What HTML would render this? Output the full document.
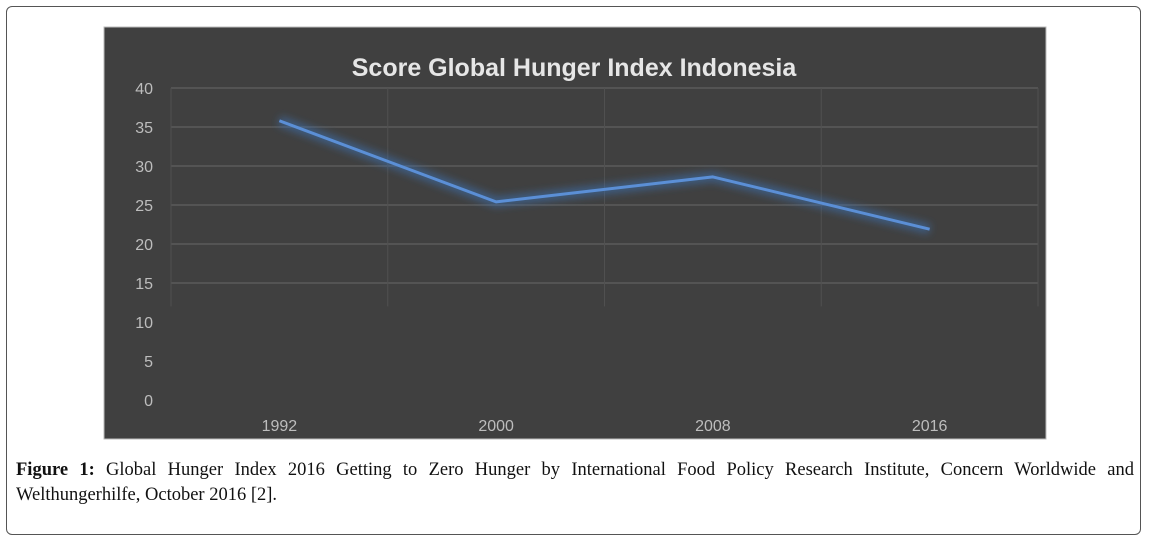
<!DOCTYPE html>
<html><head><meta charset="utf-8"><style>
body{margin:0;width:1149px;height:542px;background:#fff;overflow:hidden;font-family:"Liberation Sans",sans-serif}
#frame{position:absolute;left:6px;top:6px;width:1135px;height:529px;border:1px solid #555;border-radius:6px;box-sizing:border-box}
#cap{position:absolute;left:16px;top:458px;width:1118px;font-family:"Liberation Serif",serif;font-size:18.5px;line-height:25px;color:#111}
#cap .l1{text-align:justify;text-align-last:justify;white-space:nowrap}
</style></head><body>
<div id="frame"></div>
<svg width="1149" height="542" style="position:absolute;left:0;top:0">
<defs><filter id="glow" x="-20%" y="-50%" width="140%" height="200%"><feGaussianBlur stdDeviation="4"/></filter></defs>
<rect x="104" y="27" width="942" height="412" fill="#404040" stroke="#bbb"/>
<text x="574" y="76" text-anchor="middle" font-size="25" font-weight="bold" fill="#e6e6e6" font-family="Liberation Sans">Score Global Hunger Index Indonesia</text>
<g id="grid"></g><g id="yt"></g><g id="xt"></g><g id="ser"></g>
</svg>
<div id="cap"><div class="l1"><b>Figure 1:</b> Global Hunger Index 2016 Getting to Zero Hunger by International Food Policy Research Institute, Concern Worldwide and</div><div>Welthungerhilfe, October 2016 [2].</div></div>
<script>
const categories=["1992","2000","2008","2016"];
const values=[35.8,25.4,28.6,21.9];
const yTicks=[0,5,10,15,20,25,30,35,40];
const gridTicks=[15,20,25,30,35,40];
const NS="http://www.w3.org/2000/svg";
const L=171,R=1038,T=88,B=400;
const y=v=>B-(v/40)*(B-T);
const bw=(R-L)/categories.length;
const x=i=>L+bw*(i+0.5);
function mk(t,a,p){const e=document.createElementNS(NS,t);for(const k in a)e.setAttribute(k,a[k]);p.appendChild(e);return e;}
const g=document.getElementById('grid');
gridTicks.forEach(v=>{const l=mk('line',{x1:L,x2:R,y1:y(v),y2:y(v),stroke:'#5a5a5a','stroke-width':1.5},g);

});
for(let i=0;i<=categories.length;i++){const l=mk('line',{x1:L+bw*i,x2:L+bw*i,y1:T,y2:y(12),stroke:'#505050','stroke-width':1},g);

}
const yt=document.getElementById('yt');
yTicks.forEach(v=>{const t=mk('text',{x:153,y:y(v)+6,'text-anchor':'end','font-size':16,fill:'#bdbdbd'},yt);t.textContent=v;

});
const xt=document.getElementById('xt');
categories.forEach((c,i)=>{const t=mk('text',{x:x(i),y:431,'text-anchor':'middle','font-size':16,fill:'#bdbdbd'},xt);t.textContent=c;

});
const s=document.getElementById('ser');
const pts=values.map((v,i)=>x(i)+','+y(v)).join(' ');
const gl=mk('polyline',{points:pts,fill:'none',stroke:'#3d6fb0','stroke-width':10,'stroke-opacity':0.6,filter:'url(#glow)'},s);


const ln=mk('polyline',{points:pts,fill:'none',stroke:'#5b8fd6','stroke-width':3,'stroke-linejoin':'round'},s);


</script>
</body></html>
